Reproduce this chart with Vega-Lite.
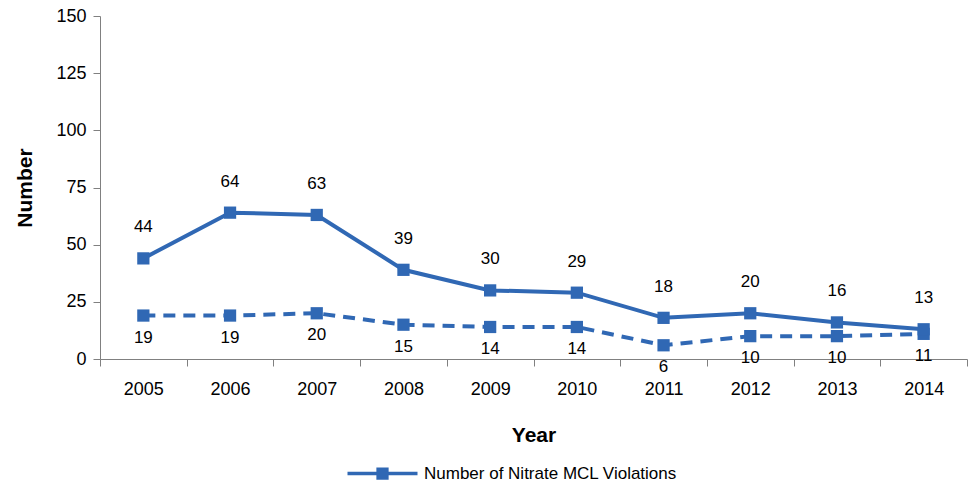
{
  "$schema": "https://vega.github.io/schema/vega-lite/v6.json",
  "width": 867,
  "height": 343,
  "autosize": "none",
  "padding": {"left": 100, "top": 16, "right": 5, "bottom": 130},
  "background": "white",
  "config": {
    "view": {"stroke": null},
    "font": "Liberation Sans"
  },
  "data": {
    "values": [
      {"year": "2005", "series": "Number of Nitrate MCL Violations", "value": 44},
      {"year": "2006", "series": "Number of Nitrate MCL Violations", "value": 64},
      {"year": "2007", "series": "Number of Nitrate MCL Violations", "value": 63},
      {"year": "2008", "series": "Number of Nitrate MCL Violations", "value": 39},
      {"year": "2009", "series": "Number of Nitrate MCL Violations", "value": 30},
      {"year": "2010", "series": "Number of Nitrate MCL Violations", "value": 29},
      {"year": "2011", "series": "Number of Nitrate MCL Violations", "value": 18},
      {"year": "2012", "series": "Number of Nitrate MCL Violations", "value": 20},
      {"year": "2013", "series": "Number of Nitrate MCL Violations", "value": 16},
      {"year": "2014", "series": "Number of Nitrate MCL Violations", "value": 13},
      {"year": "2005", "series": "Other", "value": 19},
      {"year": "2006", "series": "Other", "value": 19},
      {"year": "2007", "series": "Other", "value": 20},
      {"year": "2008", "series": "Other", "value": 15},
      {"year": "2009", "series": "Other", "value": 14},
      {"year": "2010", "series": "Other", "value": 14},
      {"year": "2011", "series": "Other", "value": 6},
      {"year": "2012", "series": "Other", "value": 10},
      {"year": "2013", "series": "Other", "value": 10},
      {"year": "2014", "series": "Other", "value": 11}
    ]
  },
  "encoding": {
    "x": {
      "field": "year", "type": "ordinal",
      "scale": {"type": "band", "paddingInner": 0, "paddingOuter": 0},
      "axis": {
        "title": "Year", "titleFontSize": 21, "titleFontWeight": "bold", "titleColor": "#000",
        "titlePadding": 26,
        "labelAngle": 0, "labelFontSize": 18, "labelColor": "#000", "labelPadding": 14,
        "tickBand": "extent", "tickSize": 7, "tickColor": "#808080", "domainColor": "#808080",
        "grid": false
      }
    },
    "y": {
      "field": "value", "type": "quantitative",
      "scale": {"domain": [0, 150], "nice": false},
      "axis": {
        "title": "Number", "titleFontSize": 21, "titleFontWeight": "bold", "titleColor": "#000",
        "titlePadding": 20,
        "values": [0, 25, 50, 75, 100, 125, 150],
        "labelFontSize": 18, "labelColor": "#000", "labelPadding": 7,
        "tickSize": 7, "tickColor": "#808080", "domainColor": "#808080",
        "grid": false
      }
    }
  },
  "layer": [
    {
      "transform": [{"filter": "datum.series === 'Other'"}],
      "mark": {"type": "line", "color": "#3068B4", "strokeWidth": 4, "strokeDash": [12, 8],
               "point": {"shape": "square", "size": 150, "filled": true, "color": "#3068B4", "opacity": 1}},
      "encoding": {}
    },
    {
      "transform": [{"filter": "datum.series !== 'Other'"}],
      "mark": {"type": "line", "strokeWidth": 4,
               "point": {"shape": "square", "size": 150, "filled": true, "opacity": 1}},
      "encoding": {
        "color": {
          "field": "series", "type": "nominal",
          "scale": {"range": ["#3068B4"]},
          "legend": {
            "title": null, "orient": "none", "legendX": 265, "legendY": 440,
            "labelFontSize": 17, "labelColor": "#000", "labelLimit": 0,
            "symbolType": "M-2,-0.1H-0.35V-0.35H0.35V-0.1H2V0.1H0.35V0.35H-0.35V0.1H-2Z",
            "symbolSize": 1225, "symbolStrokeWidth": 0, "labelOffset": 24
          }
        }
      }
    },
    {
      "transform": [{"filter": "datum.series !== 'Other'"}],
      "mark": {"type": "text", "fontSize": 17, "color": "#000", "dy": -31},
      "encoding": {"text": {"field": "value", "type": "quantitative"}}
    },
    {
      "transform": [{"filter": "datum.series === 'Other'"}],
      "mark": {"type": "text", "fontSize": 17, "color": "#000", "dy": 22},
      "encoding": {"text": {"field": "value", "type": "quantitative"}}
    }
  ]
}
